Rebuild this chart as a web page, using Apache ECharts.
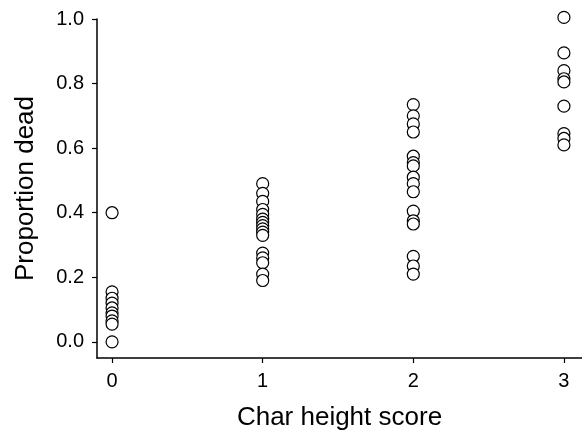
<!DOCTYPE html>
<html>
<head>
<meta charset="utf-8">
<script src="https://cdn.jsdelivr.net/npm/echarts@6/dist/echarts.min.js"></script>
<style>
  html, body { margin: 0; padding: 0; background: #fff; }
  #chart { width: 582px; height: 439px; }
</style>
</head>
<body>
<div id="chart"></div>
<script>
// char height score on x, one array of proportions per score
const scores = [0, 1, 2, 3];
const deadScore0 = [0.40, 0.155, 0.135, 0.12, 0.105, 0.09, 0.08, 0.065, 0.055, 0.0];
const deadScore1 = [0.49, 0.46, 0.435, 0.41, 0.395, 0.38, 0.37, 0.36, 0.35, 0.34, 0.33, 0.275, 0.26, 0.245, 0.21, 0.19];
const deadScore2 = [0.735, 0.70, 0.675, 0.65, 0.575, 0.555, 0.545, 0.51, 0.49, 0.465, 0.405, 0.375, 0.365, 0.265, 0.235, 0.21];
const deadScore3 = [1.005, 0.895, 0.84, 0.815, 0.805, 0.73, 0.645, 0.63, 0.61];
const yTicks = [0, 0.2, 0.4, 0.6, 0.8, 1.0];

const groups = [deadScore0, deadScore1, deadScore2, deadScore3];
const points = [];
groups.forEach((vals, i) => {
  vals.forEach((v) => points.push([scores[i], v]));
});

const chart = echarts.init(document.getElementById("chart"));
const font = "Liberation Sans";
const option = {
  animation: false,
  grid: {
    left: 97,
    right: 0,
    top: 19,
    bottom: 81,
  },
  xAxis: {
    type: "value",
    min: -0.1,
    max: 3.12,
    name: "Char height score",
    nameLocation: "middle",
    nameGap: 47,
    nameTextStyle: { fontFamily: font, fontSize: 26, color: "#000" },
    splitLine: { show: false },
    axisLine: { onZero: false, lineStyle: { color: "#000", width: 1.5 } },
    axisTick: {
      customValues: scores,
      length: 5,
      lineStyle: { color: "#000", width: 1.2 },
    },
    axisLabel: {
      customValues: scores,
      margin: 13,
      fontFamily: font,
      fontSize: 20,
      color: "#000",
      formatter: (v) => String(v),
    },
  },
  yAxis: {
    type: "value",
    min: -0.05,
    max: 1.0,
    name: "Proportion dead",
    nameLocation: "middle",
    nameGap: 58,
    nameTextStyle: { fontFamily: font, fontSize: 26, color: "#000" },
    splitLine: { show: false },
    axisLine: { show: true, onZero: false, lineStyle: { color: "#000", width: 1.5 } },
    axisTick: {
      show: true,
      customValues: yTicks,
      length: 5,
      lineStyle: { color: "#000", width: 1.2 },
    },
    axisLabel: {
      customValues: yTicks,
      margin: 13,
      fontFamily: font,
      fontSize: 20,
      color: "#000",
      formatter: (v) => v.toFixed(1),
    },
  },
  series: [
    {
      type: "scatter",
      data: points,
      clip: false,
      symbol: "circle",
      symbolSize: 12,
      itemStyle: { color: "#fff", borderColor: "#000", borderWidth: 1.2, opacity: 1 },
    },
  ],
};
chart.setOption(option);
</script>
</body>
</html>
